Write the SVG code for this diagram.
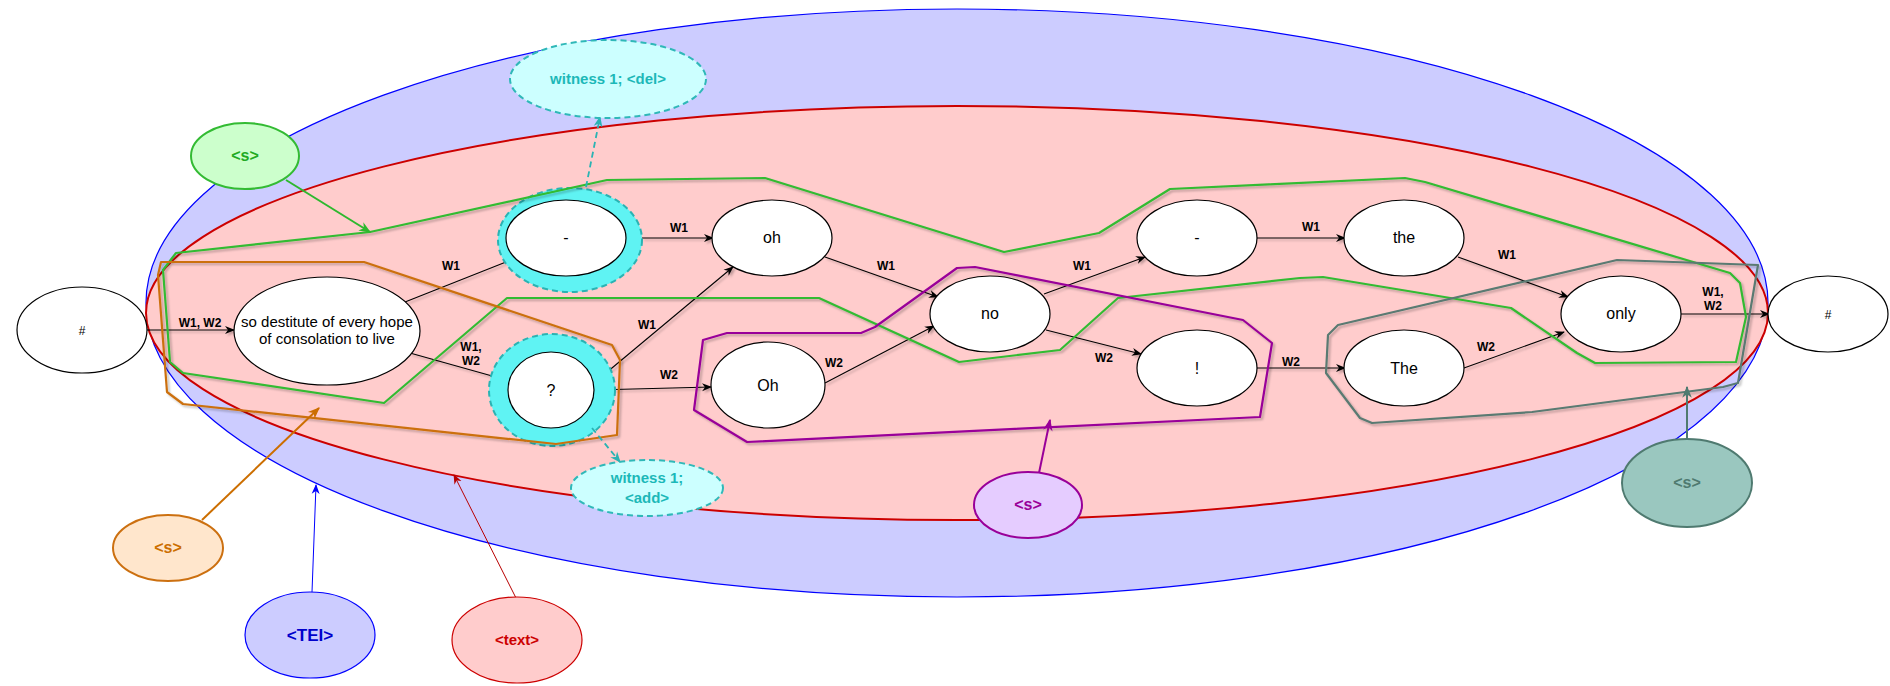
<svg xmlns="http://www.w3.org/2000/svg" width="1890" height="686" viewBox="0 0 1890 686">
<style>
text{font-family:"Liberation Sans",Arial,sans-serif;text-anchor:middle;}
.node{fill:#fff;stroke:#000;stroke-width:1.2;}
.halo{fill:#5ff3f3;stroke:#2ab3b3;stroke-width:2;stroke-dasharray:6 4;}
.wit{fill:#ccffff;stroke:#2fb8b8;stroke-width:2;stroke-dasharray:6 4;}
.wtext{font-size:15px;font-weight:bold;fill:#1cb8b8;}
.ntext{font-size:16px;fill:#000;}
.edge{fill:none;stroke:#000;stroke-width:1.1;}
.elab{font-size:12px;font-weight:bold;fill:#000;}
.hull{fill:none;stroke-width:2.2;stroke-linejoin:round;}
.ann{font-size:16px;font-weight:bold;}
</style>
<defs>
<marker id="ak" viewBox="0 0 10 10" refX="9" refY="5" markerWidth="10" markerHeight="10" markerUnits="userSpaceOnUse" orient="auto"><path d="M0,1 L10,5 L0,9 L3,5 z" fill="#000"/></marker>
<marker id="ag" viewBox="0 0 10 10" refX="9" refY="5" markerWidth="12" markerHeight="12" markerUnits="userSpaceOnUse" orient="auto"><path d="M0,1 L10,5 L0,9 L3,5 z" fill="#2eb82e"/></marker>
<marker id="ao" viewBox="0 0 10 10" refX="9" refY="5" markerWidth="12" markerHeight="12" markerUnits="userSpaceOnUse" orient="auto"><path d="M0,1 L10,5 L0,9 L3,5 z" fill="#cc6e00"/></marker>
<marker id="ab" viewBox="0 0 10 10" refX="9" refY="5" markerWidth="10" markerHeight="10" markerUnits="userSpaceOnUse" orient="auto"><path d="M0,1 L10,5 L0,9 L3,5 z" fill="#0000ff"/></marker>
<marker id="ar" viewBox="0 0 10 10" refX="9" refY="5" markerWidth="10" markerHeight="10" markerUnits="userSpaceOnUse" orient="auto"><path d="M0,1 L10,5 L0,9 L3,5 z" fill="#b80000"/></marker>
<marker id="ap" viewBox="0 0 10 10" refX="9" refY="5" markerWidth="12" markerHeight="12" markerUnits="userSpaceOnUse" orient="auto"><path d="M0,1 L10,5 L0,9 L3,5 z" fill="#990099"/></marker>
<marker id="at" viewBox="0 0 10 10" refX="9" refY="5" markerWidth="12" markerHeight="12" markerUnits="userSpaceOnUse" orient="auto"><path d="M0,1 L10,5 L0,9 L3,5 z" fill="#4f7a70"/></marker>
<marker id="ac" viewBox="0 0 10 10" refX="9" refY="5" markerWidth="11" markerHeight="11" markerUnits="userSpaceOnUse" orient="auto"><path d="M0,1 L10,5 L0,9 L3,5 z" fill="#2ab3b3"/></marker>
<filter id="sh" x="-5%" y="-5%" width="110%" height="110%"><feDropShadow dx="2" dy="2" stdDeviation="0.8" flood-color="#000" flood-opacity="0.25"/></filter>
</defs>

<g id="tei-area">
<ellipse cx="957" cy="303" rx="811" ry="294" fill="#ccccff" stroke="#0000ff" stroke-width="1.2"/>
</g>
<g id="text-area">
<ellipse cx="957" cy="313" rx="811" ry="207" fill="#ffcccc" stroke="#cc0000" stroke-width="2"/>
</g>

<g id="connectors" filter="url(#sh)">
<path class="edge" d="M147,330 L234,330" marker-end="url(#ak)"/>
<path class="edge" d="M405,302 L506,262"/>
<path class="edge" d="M410,353 L510,381" marker-end="url(#ak)"/>
<path class="edge" d="M642,238 L713,238" marker-end="url(#ak)"/>
<path class="edge" d="M594,383 L733,267" marker-end="url(#ak)"/>
<path class="edge" d="M594,390 L711,387" marker-end="url(#ak)"/>
<path class="edge" d="M825,257 L938,297" marker-end="url(#ak)"/>
<path class="edge" d="M825,383 L934,326" marker-end="url(#ak)"/>
<path class="edge" d="M1044,294 L1145,257" marker-end="url(#ak)"/>
<path class="edge" d="M1046,330 L1141,354" marker-end="url(#ak)"/>
<path class="edge" d="M1256,238 L1345,238" marker-end="url(#ak)"/>
<path class="edge" d="M1256,368 L1345,368" marker-end="url(#ak)"/>
<path class="edge" d="M1458,257 L1568,297" marker-end="url(#ak)"/>
<path class="edge" d="M1464,368 L1564,332" marker-end="url(#ak)"/>
<path class="edge" d="M1681,314 L1769,314" marker-end="url(#ak)"/>
</g>

<g id="nodes">
<g id="n-hash-start"><ellipse class="node" cx="82" cy="330" rx="65" ry="43"/><text class="ntext" x="82" y="335" style="font-size:12px">#</text></g>
<g id="n-so-destitute"><ellipse class="node" cx="327" cy="331" rx="93" ry="54"/><text class="ntext" x="327" y="327" style="font-size:15px">so destitute of every hope</text><text class="ntext" x="327" y="344" style="font-size:15px">of consolation to live</text></g>
<g id="n-dash1"><ellipse class="halo" cx="570" cy="240" rx="72" ry="52"/><ellipse class="node" cx="566" cy="238" rx="60" ry="38"/><text class="ntext" x="566" y="243">-</text></g>
<g id="n-question"><ellipse class="halo" cx="552" cy="390" rx="63" ry="56"/><ellipse class="node" cx="551" cy="390" rx="43" ry="38"/><text class="ntext" x="551" y="396">?</text></g>
<g id="n-oh"><ellipse class="node" cx="772" cy="238" rx="60" ry="38"/><text class="ntext" x="772" y="243">oh</text></g>
<g id="n-Oh"><ellipse class="node" cx="768" cy="385" rx="57" ry="43"/><text class="ntext" x="768" y="391">Oh</text></g>
<g id="n-no"><ellipse class="node" cx="990" cy="314" rx="60" ry="38"/><text class="ntext" x="990" y="319">no</text></g>
<g id="n-dash2"><ellipse class="node" cx="1197" cy="238" rx="60" ry="38"/><text class="ntext" x="1197" y="243">-</text></g>
<g id="n-excl"><ellipse class="node" cx="1197" cy="368" rx="60" ry="38"/><text class="ntext" x="1197" y="374">!</text></g>
<g id="n-the"><ellipse class="node" cx="1404" cy="238" rx="60" ry="38"/><text class="ntext" x="1404" y="243">the</text></g>
<g id="n-The"><ellipse class="node" cx="1404" cy="368" rx="60" ry="38"/><text class="ntext" x="1404" y="374">The</text></g>
<g id="n-only"><ellipse class="node" cx="1621" cy="314" rx="60" ry="38"/><text class="ntext" x="1621" y="319">only</text></g>
<g id="n-hash-end"><ellipse class="node" cx="1828" cy="314" rx="60" ry="38"/><text class="ntext" x="1828" y="319" style="font-size:12px">#</text></g>
</g>

<g id="edge-labels">
<text class="elab" x="200" y="327">W1, W2</text>
<text class="elab" x="451" y="270">W1</text>
<text class="elab" x="471" y="351">W1,</text>
<text class="elab" x="471" y="365">W2</text>
<text class="elab" x="679" y="232">W1</text>
<text class="elab" x="647" y="329">W1</text>
<text class="elab" x="669" y="379">W2</text>
<text class="elab" x="886" y="270">W1</text>
<text class="elab" x="834" y="367">W2</text>
<text class="elab" x="1082" y="270">W1</text>
<text class="elab" x="1104" y="362">W2</text>
<text class="elab" x="1311" y="231">W1</text>
<text class="elab" x="1291" y="366">W2</text>
<text class="elab" x="1507" y="259">W1</text>
<text class="elab" x="1486" y="351">W2</text>
<text class="elab" x="1713" y="296">W1,</text>
<text class="elab" x="1713" y="310">W2</text>
</g>

<g id="hulls" filter="url(#sh)">
<path id="hull-green" class="hull" stroke="#33bb33" d="M176,253 L370,232 L607,180 L765,178 L1004,252 L1099,233 L1170,189 L1405,178 L1425,182 L1730,273 L1740,283 L1746,317 L1736,362 L1595,363 L1577,353 L1511,308 L1323,277 L1300,278 L1118,298 L1060,350 L959,362 L819,298 L507,298 L384,403 L183,373 L170,362 L163,270 Z"/>
<path id="hull-orange" class="hull" stroke="#cc7010" d="M161,262 L364,262 L612,345 L620,360 L617,435 L556,444 L183,404 L167,392 L158,275 Z"/>
<path id="hull-purple" class="hull" stroke="#990099" d="M703,340 L727,333 L861,333 L875,327 L957,268 L975,267 L1243,320 L1272,343 L1260,417 L747,442 L694,410 Z"/>
<path id="hull-teal" class="hull" stroke="#5a7a72" stroke-width="2.6" d="M1338,325 L1617,260 L1758,265 L1738,383 L1723,387 L1532,412 L1372,423 L1360,418 L1326,373 L1328,335 Z"/>
</g>

<g id="annotation-connectors">
<path d="M286,180 L370,232" stroke="#2eb82e" stroke-width="2" fill="none" marker-end="url(#ag)"/>
<path d="M202,520 L319,408" stroke="#cc6e00" stroke-width="2" fill="none" marker-end="url(#ao)"/>
<path d="M312,592 L316,485" stroke="#0000ff" stroke-width="1" fill="none" marker-end="url(#ab)"/>
<path d="M516,598 L454,475" stroke="#b80000" stroke-width="1" fill="none" marker-end="url(#ar)"/>
<path d="M1039,473 L1050,420" stroke="#990099" stroke-width="2" fill="none" marker-end="url(#ap)"/>
<path d="M1687,442 L1687,387" stroke="#4f7a70" stroke-width="2" fill="none" marker-end="url(#at)"/>
<path d="M586,187 L600,117" stroke="#2ab3b3" stroke-width="1.8" stroke-dasharray="6 4" fill="none" marker-end="url(#ac)"/>
<path d="M592,428 L620,462" stroke="#2ab3b3" stroke-width="1.8" stroke-dasharray="6 4" fill="none" marker-end="url(#ac)"/>
</g>

<g id="n-witness-del"><ellipse class="wit" cx="608" cy="79" rx="98" ry="39"/><text class="wtext" x="608" y="84">witness 1; &lt;del&gt;</text></g>
<g id="n-witness-add"><ellipse class="wit" cx="647" cy="488" rx="76" ry="28"/><text class="wtext" x="647" y="483">witness 1;</text><text class="wtext" x="647" y="503">&lt;add&gt;</text></g>
<g id="n-s-green"><ellipse cx="245" cy="156" rx="54" ry="33" fill="#ccffcc" stroke="#33bb33" stroke-width="2"/><text class="ann" x="245" y="161" fill="#22aa22">&lt;s&gt;</text></g>
<g id="n-s-orange"><ellipse cx="168" cy="548" rx="55" ry="33" fill="#ffe6cc" stroke="#cc7010" stroke-width="2"/><text class="ann" x="168" y="553" fill="#cc6e00">&lt;s&gt;</text></g>
<g id="n-tei"><ellipse cx="310" cy="635" rx="65" ry="43" fill="#ccccff" stroke="#0000ff" stroke-width="1.2"/><text class="ann" x="310" y="641" fill="#0000cc" style="font-size:17px">&lt;TEI&gt;</text></g>
<g id="n-text"><ellipse cx="517" cy="640" rx="65" ry="43" fill="#ffcccc" stroke="#cc0000" stroke-width="1.2"/><text class="ann" x="517" y="645" fill="#cc0000" style="font-size:15px">&lt;text&gt;</text></g>
<g id="n-s-purple"><ellipse cx="1028" cy="505" rx="54" ry="33" fill="#e5ccff" stroke="#990099" stroke-width="2"/><text class="ann" x="1028" y="510" fill="#990099">&lt;s&gt;</text></g>
<g id="n-s-teal"><ellipse cx="1687" cy="483" rx="65" ry="44" fill="#9ac7bf" stroke="#4f7a70" stroke-width="2"/><text class="ann" x="1687" y="488" fill="#4f7a70">&lt;s&gt;</text></g>
</svg>
